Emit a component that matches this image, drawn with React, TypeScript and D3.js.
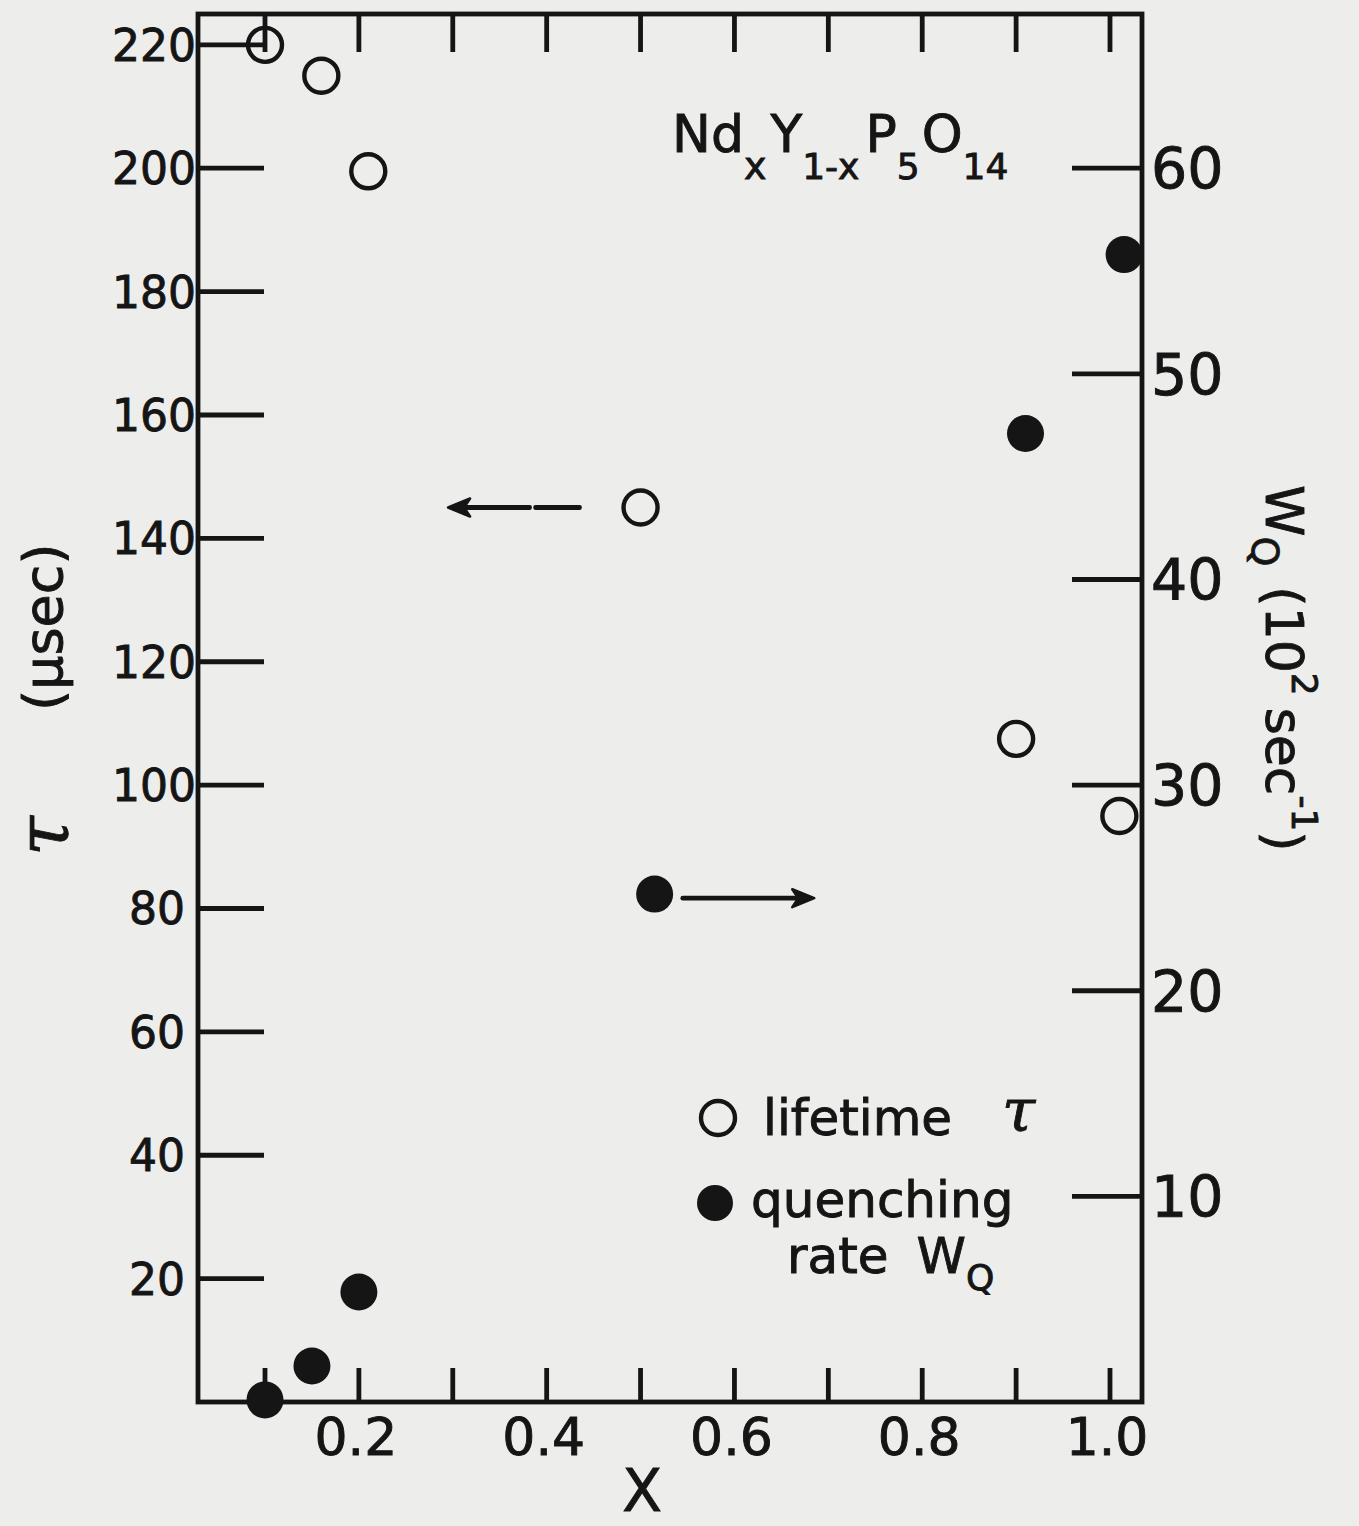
import React from 'react';
import * as d3 from 'd3';

// Nd_x Y_1-x P5O14 — lifetime τ and quenching rate W_Q vs concentration x

const WIDTH = 1359;
const HEIGHT = 1526;

const COLORS = {
  paper: '#ededeb',
  ink: '#151515',
};

const FONT = '"DejaVu Sans", Verdana, sans-serif';
const SERIF = '"DejaVu Serif", serif';

// axis ticks
const xTicks = [0.1, 0.2, 0.3, 0.4, 0.5, 0.6, 0.7, 0.8, 0.9, 1.0];
const xLabels = [0.2, 0.4, 0.6, 0.8, 1.0];
const tauTicks = [20, 40, 60, 80, 100, 120, 140, 160, 180, 200, 220];
const wqTicks = [10, 20, 30, 40, 50, 60];

// lifetime τ (µsec), open circles, left axis
const lifetimeX = [0.10, 0.16, 0.21, 0.50, 0.90, 1.01];
const lifetimeTau = [220, 215, 199.5, 145, 107.5, 95];

// quenching rate W_Q (10^2 sec^-1), filled circles, right axis
const quenchX = [0.10, 0.15, 0.20, 0.515, 0.91, 1.015];
const quenchWq = [0.1, 1.75, 5.35, 24.7, 47.1, 55.8];

const frame = { left: 198, right: 1142, top: 14, bottom: 1402 };

export default function App() {
  const x = d3.scaleLinear().domain([0.1, 1.0]).range([265, 1110]);
  const yTau = d3.scaleLinear().domain([0, 225]).range([frame.bottom, frame.top]);
  const yWq = d3.scaleLinear().domain([0, 67.5]).range([frame.bottom, frame.top]);

  const sw = 4.8;
  // thin outline on the lettering so it reads as heavy as the pen strokes
  const ink = { fill: COLORS.ink, stroke: COLORS.ink, strokeWidth: 0.9 };

  // shaft (optionally broken) plus a small solid head
  const arrow = (x1: number, x2: number, y: number, gapAt?: number) => {
    const dir = Math.sign(x2 - x1);
    const shaft = gapAt === undefined
      ? `M${x1},${y}L${x2 - dir * 8},${y}`
      : `M${x1},${y}L${gapAt - dir * 3},${y}M${gapAt + dir * 3},${y}L${x2 - dir * 8},${y}`;
    const head = `M${x2},${y}L${x2 - dir * 22},${y - 9}L${x2 - dir * 16},${y}L${x2 - dir * 22},${y + 9}Z`;
    return { shaft, head };
  };
  const leftArrow = arrow(x(0.435), x(0.295), yTau(145), x(0.385));
  const rightArrow = arrow(x(0.545), x(0.685), yWq(24.5));

  return (
    <div style={{ position: 'absolute', left: 0, top: 0 }}>
      <svg width={WIDTH} height={HEIGHT} style={{ display: 'block' }}>
        <rect width={WIDTH} height={HEIGHT} fill={COLORS.paper} />

        {/* frame */}
        <rect
          x={frame.left}
          y={frame.top}
          width={frame.right - frame.left}
          height={frame.bottom - frame.top}
          fill="none"
          stroke={COLORS.ink}
          strokeWidth={sw}
        />

        {/* x ticks, bottom and top */}
        {xTicks.map((t) => (
          <g key={`xt-${t}`} stroke={COLORS.ink} strokeWidth={sw}>
            <line x1={x(t)} x2={x(t)} y1={frame.bottom} y2={frame.bottom - 34} />
            <line x1={x(t)} x2={x(t)} y1={frame.top} y2={frame.top + 38} />
          </g>
        ))}
        {xLabels.map((t) => (
          <text
            key={`xl-${t}`}
            x={x(t) - 3}
            y={1455}
            textAnchor="middle"
            fontFamily={FONT}
            fontSize={52}
            {...ink}
          >
            {t.toFixed(1)}
          </text>
        ))}
        <text x={642} y={1511} textAnchor="middle" fontFamily={FONT} fontSize={58} {...ink}>
          X
        </text>

        {/* left axis τ */}
        {tauTicks.map((t) => (
          <g key={`tt-${t}`}>
            <line
              x1={frame.left}
              x2={frame.left + 66}
              y1={yTau(t)}
              y2={yTau(t)}
              stroke={COLORS.ink}
              strokeWidth={sw}
            />
            <text
              x={frame.left - (t >= 100 ? 2 : 13)}
              y={yTau(t) + 16}
              textAnchor="end"
              fontFamily={FONT}
              fontSize={44}
              {...ink}
            >
              {t}
            </text>
          </g>
        ))}
        <text
          transform="translate(68, 856) rotate(-90)"
          fontFamily={SERIF}
          fontStyle="italic"
          fontSize={72}
          {...ink}
        >
          τ
        </text>
        <text transform="translate(62, 711) rotate(-90)" fontFamily={FONT} fontSize={54} {...ink}>
          (μsec)
        </text>

        {/* right axis W_Q */}
        {wqTicks.map((t) => (
          <g key={`wt-${t}`}>
            <line
              x1={frame.right - 70}
              x2={frame.right}
              y1={yWq(t)}
              y2={yWq(t)}
              stroke={COLORS.ink}
              strokeWidth={sw}
            />
            <text x={frame.right + 9} y={yWq(t) + 21} fontFamily={FONT} fontSize={57} {...ink}>
              {t}
            </text>
          </g>
        ))}
        <text transform="translate(1266, 485) rotate(90)" fontFamily={FONT} {...ink}>
          <tspan fontSize={52}>W</tspan>
          <tspan fontSize={38} dy={14}>Q</tspan>
          <tspan fontSize={52} dy={-14} dx={20}>(10</tspan>
          <tspan fontSize={36} dy={-26}>2</tspan>
          <tspan fontSize={52} dy={26} dx={12}>sec</tspan>
          <tspan fontSize={36} dy={-26}>-1</tspan>
          <tspan fontSize={52} dy={26}>)</tspan>
        </text>

        {/* formula */}
        <text x={672} y={152} fontFamily={FONT} fontSize={52} {...ink}>
          Nd
          <tspan fontSize={38} dy={27}>x</tspan>
          <tspan dy={-27} dx={4}>Y</tspan>
          <tspan fontSize={36} dy={27}>1-x</tspan>
          <tspan dy={-27} dx={6}>P</tspan>
          <tspan fontSize={36} dy={27}>5</tspan>
          <tspan dy={-27} dx={2}>O</tspan>
          <tspan fontSize={36} dy={27}>14</tspan>
        </text>

        {/* arrows */}
        {[leftArrow, rightArrow].map((a, i) => (
          <g key={`arrow-${i}`}>
            <path d={a.shaft} fill="none" stroke={COLORS.ink} strokeWidth={4.8} strokeLinecap="round" />
            <path d={a.head} fill={COLORS.ink} stroke={COLORS.ink} strokeWidth={2.5} strokeLinejoin="round" />
          </g>
        ))}

        {/* data */}
        {lifetimeX.map((v, i) => (
          <circle
            key={`lt-${i}`}
            cx={x(v)}
            cy={yTau(lifetimeTau[i])}
            r={17}
            fill="none"
            stroke={COLORS.ink}
            strokeWidth={4.4}
          />
        ))}
        {quenchX.map((v, i) => (
          <circle key={`wq-${i}`} cx={x(v)} cy={yWq(quenchWq[i])} r={18.5} fill={COLORS.ink} />
        ))}

        {/* legend */}
        <circle cx={718} cy={1118} r={17} fill="none" stroke={COLORS.ink} strokeWidth={4.4} />
        <text x={763} y={1135} fontFamily={FONT} fontSize={50} {...ink}>
          lifetime
        </text>
        <text x={1002} y={1131} fontFamily={SERIF} fontStyle="italic" fontSize={60} {...ink}>
          τ
        </text>
        <circle cx={715} cy={1203} r={18} fill={COLORS.ink} />
        <text x={751} y={1217} fontFamily={FONT} fontSize={50} {...ink}>
          quenching
        </text>
        <text x={787} y={1273} fontFamily={FONT} fontSize={50} {...ink}>
          rate
          <tspan dx={28}>W</tspan>
          <tspan fontSize={36} dy={17}>Q</tspan>
        </text>
      </svg>
    </div>
  );
}
